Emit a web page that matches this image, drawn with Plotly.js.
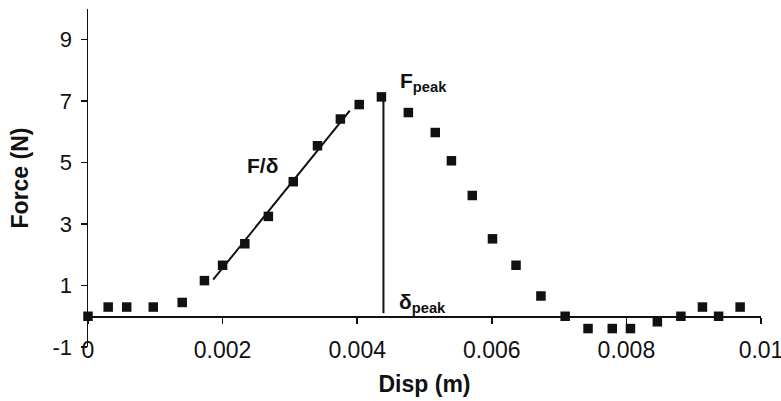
<!DOCTYPE html>
<html><head><meta charset="utf-8">
<script src="https://cdn.plot.ly/plotly-3.0.1.min.js"></script>
<style>html,body{margin:0;padding:0;background:#fff}#chart{width:781px;height:401px}</style>
</head><body><div id="chart"></div>
<script>
// Measured data (Disp in m, Force in N)
const disp = [0, 0.0003, 0.000575, 0.00097, 0.0014, 0.00173, 0.002, 0.00233, 0.00268,
  0.00305, 0.00341, 0.00375, 0.00403, 0.00436, 0.00476, 0.00516, 0.0054, 0.00571,
  0.00601, 0.00636, 0.00673, 0.00709, 0.00743, 0.00779, 0.00806, 0.00846, 0.00881,
  0.00913, 0.00937, 0.00969];
const force = [0, 0.3, 0.3, 0.3, 0.45, 1.16, 1.66, 2.36, 3.25,
  4.38, 5.55, 6.42, 6.89, 7.14, 6.63, 5.98, 5.06, 3.93,
  2.52, 1.66, 0.66, 0.0, -0.4, -0.4, -0.4, -0.18, 0.0,
  0.3, 0.0, 0.3];
// Stiffness fit line (F/delta)
const fitX = [0.00186, 0.00389];
const fitY = [1.19, 6.69];
// Peak displacement marker line
const peakX = [0.00439, 0.00439];
const peakY = [0.1, 7.1];
const xTicks = [0, 0.002, 0.004, 0.006, 0.008, 0.01];
const xTickText = ['0', '0.002', '0.004', '0.006', '0.008', '0.01'];
const yTicks = [-1, 1, 3, 5, 7, 9];
const yTickText = ['-1', '1', '3', '5', '7', '9'];

const FONT = 'Liberation Sans, Arial, Helvetica, sans-serif';
const INK = '#111111';

const traces = [
  {x: fitX, y: fitY, mode: 'lines', line: {color: INK, width: 2}, hoverinfo: 'skip', showlegend: false},
  {x: peakX, y: peakY, mode: 'lines', line: {color: INK, width: 2}, hoverinfo: 'skip', showlegend: false},
  {x: disp, y: force, mode: 'markers', cliponaxis: false,
   marker: {symbol: 'square', size: 9.5, color: INK}, showlegend: false},
  {x: [], y: [], xaxis: 'x2', mode: 'markers', showlegend: false}
];

const layout = {
  width: 781, height: 401,
  margin: {l: 88, r: 20, t: 9, b: 54},
  paper_bgcolor: '#fff', plot_bgcolor: '#fff',
  font: {family: FONT, color: INK},
  showlegend: false,
  xaxis: {
    range: [0, 0.01], tickvals: xTicks, ticktext: xTickText,
    showline: false, ticks: '', showgrid: false, zeroline: false,
    tickfont: {size: 23, color: INK}, ticklabelstandoff: -13, ticklabeloverflow: 'allow',
    title: {text: '<b>Disp (m)</b>', font: {size: 23, color: INK}, standoff: 13}
  },
  xaxis2: {
    range: [0, 0.01], overlaying: 'x', anchor: 'free', position: 1/11,
    tickvals: xTicks, showticklabels: false, showgrid: false, zeroline: false,
    showline: true, linecolor: INK, linewidth: 1.5,
    ticks: 'outside', ticklen: 6, tickwidth: 1.5, tickcolor: INK
  },
  yaxis: {
    range: [-1, 10], tickvals: yTicks, ticktext: yTickText,
    showline: true, linecolor: INK, linewidth: 1.5,
    ticks: 'outside', ticklen: 6, tickwidth: 1.5, tickcolor: INK,
    showgrid: false, zeroline: false, ticklabelstandoff: 4,
    tickfont: {size: 22, color: INK},
    title: {text: '<b>Force (N)</b>', font: {size: 23, color: INK}, standoff: 17}
  },
  annotations: [
    {x: 0.00233, y: 4.9, xref: 'x', yref: 'y', xanchor: 'left', yanchor: 'middle', showarrow: false,
     text: '<b>F/δ</b>', font: {size: 21, color: INK}},
    {x: 0.00461, y: 7.62, xref: 'x', yref: 'y', xanchor: 'left', yanchor: 'middle', showarrow: false,
     text: '<b>F<sub>peak</sub></b>', font: {size: 21, color: INK}},
    {x: 0.00459, y: 0.42, xref: 'x', yref: 'y', xanchor: 'left', yanchor: 'middle', showarrow: false,
     text: '<b>δ<sub>peak</sub></b>', font: {size: 21, color: INK}}
  ]
};

Plotly.newPlot('chart', traces, layout, {staticPlot: true, displayModeBar: false});
</script>
</body></html>
